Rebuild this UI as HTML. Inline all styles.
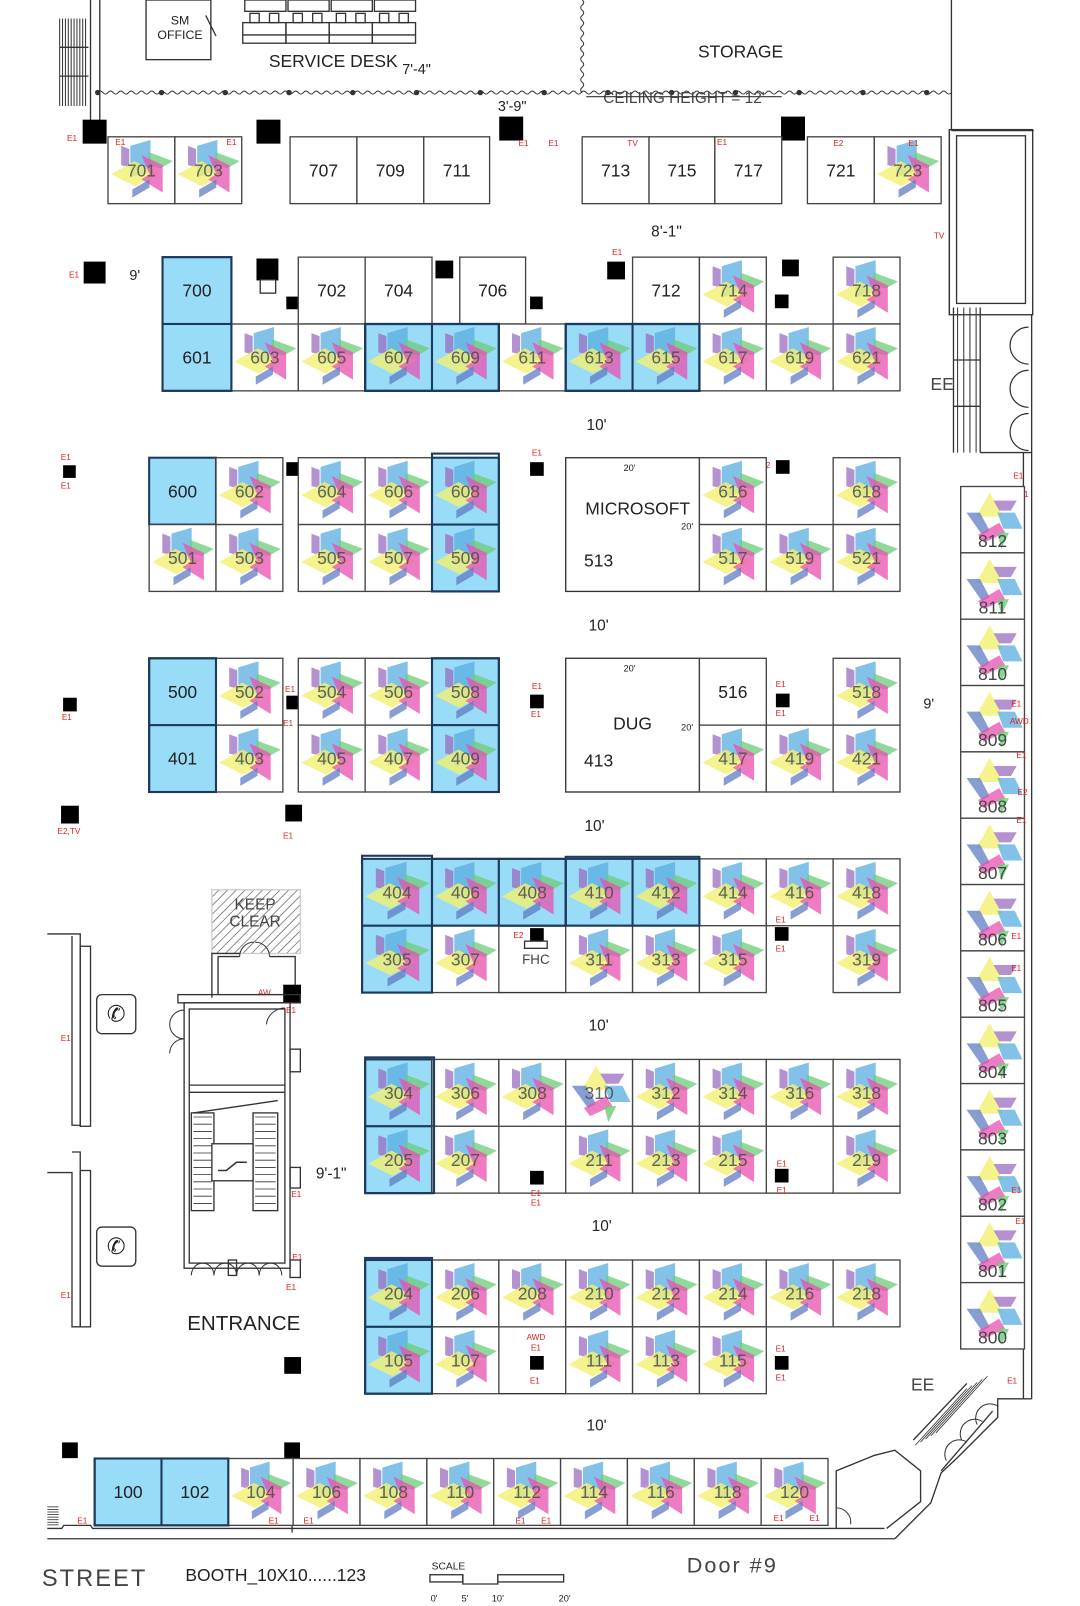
<!DOCTYPE html>
<html><head><meta charset="utf-8">
<style>
html,body{margin:0;padding:0;background:#fff;}
svg{display:block;}
text{font-family:"Liberation Sans",sans-serif;}
</style></head>
<body>
<svg id="s" xmlns="http://www.w3.org/2000/svg" width="1080" height="1606" viewBox="0 0 1050 1561.4">
<defs>
<g id="logo" stroke="none">
<polygon points="13,9 21,12 21,30 13,28" fill="#9b6cc0" opacity="0.75"/>
<polygon points="22,9 42,3 42,34 22,40" fill="#5aaee0" opacity="0.75"/>
<polygon points="40,15 64,24 52,31 40,28" fill="#6ccc78" opacity="0.75"/>
<polygon points="3,37 26,24 50,36 27,49" fill="#f2f070" opacity="0.8"/>
<polygon points="33,18 54,28 54,55 33,42 41,37" fill="#e850b0" opacity="0.75"/>
<polygon points="24,52 41,42 41,50 24,60" fill="#5f7cc4" opacity="0.75"/>
</g>
<g id="logo2" stroke="none">
<polygon points="30,6 44,30 16,30" fill="#f2f070" opacity="0.8"/>
<polygon points="34,14 58,14 52,24 40,24" fill="#9b6cc0" opacity="0.75"/>
<polygon points="6,26 20,26 30,44 22,48" fill="#5f7cc4" opacity="0.75"/>
<polygon points="38,26 56,26 64,42 44,42" fill="#5aaee0" opacity="0.75"/>
<polygon points="18,48 40,36 46,46 24,56" fill="#e850b0" opacity="0.75"/>
<polygon points="38,46 50,46 42,62" fill="#6ccc78" opacity="0.8"/>
</g>
<pattern id="hatch" width="6" height="6" patternUnits="userSpaceOnUse" patternTransform="rotate(45)">
<line x1="0" y1="0" x2="0" y2="6" stroke="#555" stroke-width="1.3"/>
</pattern>
</defs>
<g id="root" fill="none" stroke="#333" stroke-width="1.3"></g>
</svg>
<script>
var NS="http://www.w3.org/2000/svg",R=document.getElementById("root");
function el(t,a,txt){var e=document.createElementNS(NS,t);for(var k in a)e.setAttribute(k,a[k]);if(txt!=null)e.textContent=txt;R.appendChild(e);return e;}
function rect(x,y,w,h,o){o=o||{};el("rect",Object.assign({x:x,y:y,width:w,height:h},o));}
function line(x1,y1,x2,y2,o){el("line",Object.assign({x1:x1,y1:y1,x2:x2,y2:y2},o||{}));}
function pl(pts,o){el("polyline",Object.assign({points:pts},o||{}));}
function T(x,y,s,size,o){o=o||{};el("text",Object.assign({x:x,y:y,"font-size":size,fill:"#222",stroke:"none","text-anchor":"middle"},o),s);}
function red(x,y,s){T(x,y,s||"E1",8,{fill:"#e02020"});}
function pil(x,y,s){rect(x,y,s,s,{fill:"#000",stroke:"#000"});}
var BL="#99dcf7";
function B(x,y,w,h,lab,logo,blue,alt){
 rect(x,y,w,h,{fill:blue?BL:"#fff",stroke:blue?"#1c3a5c":"#444","stroke-width":blue?2:1.3});
 if(logo){el("use",{href:alt?"#logo2":"#logo",stroke:"none",transform:"translate("+x+","+y+") scale("+(w/66)+","+(h/66)+")"});}
 if(lab)T(x+w/2,y+h/2+6,lab,17,{fill:logo?"#4a4a4a":"#222","fill-opacity":logo?0.85:1});
}
line(88,0,88,120);line(97,0,97,120);
for(var i=0;i<10;i++){line(58+i*2.8,18,58+i*2.8,103,{"stroke-width":1});}
line(58,46,86,46);line(58,74,86,74);
rect(142,0,63,58);T(175,24,"SM",12);T(175,38,"OFFICE",12);line(200,15,210,35);
for(var j=0;j<4;j++){rect(238+j*42,0,40,11);rect(236+j*42,22,42,20);line(236+j*42,34,278+j*42,34);
 rect(243+j*42,13,9,9);rect(262+j*42,13,9,9);}
T(324,65,"SERVICE DESK",17);T(405,72,"7'-4\"",14);
var d="M95,90";for(var x=95;x<925;x+=10){d+=" q2.5,-3 5,0 t5,0";}
el("path",{d:d,"stroke-width":1});
var d2="M566,0";for(var y=0;y<90;y+=10){d2+=" q3,2.5 0,5 t0,5";}
el("path",{d:d2,"stroke-width":1});
for(var x=95;x<925;x+=62)el("circle",{cx:x,cy:90,r:2,fill:"#333"});
line(925,0,925,127);line(925,127,1005,127);
T(720,56,"STORAGE",17);
T(665,100,"CEILING HEIGHT = 12'",15,{fill:"#444"});line(570,94,760,94,{"stroke-width":1});
T(498,108,"3'-9\"",14);
pil(81,117,22);pil(250,117,22);pil(486,114,22);pil(760,114,22);
red(70,137);red(113,140);red(225,140);red(344,142);red(509,142);red(538,142);red(613,142);red(700,140);red(815,141);red(888,141);
var y7=133,h7=65;
B(105,y7,65,h7,"701",1);B(170,y7,65,h7,"703",1);
B(282,y7,65,h7,"707");B(347,y7,65,h7,"709");B(412,y7,64,h7,"711");
B(566,y7,65,h7,"713");B(631,y7,64,h7,"715");B(695,y7,65,h7,"717");
B(785,y7,65,h7,"721");B(850,y7,65,h7,"723",1);
red(117,141);red(225,141);red(615,142,"TV");red(702,141);red(815,142,"E2");red(888,142);
T(648,230,"8'-1\"",15);
red(913,232,"TV");
rect(923,126,81,180);rect(930,132,67,163);
line(923,126,923,306);
for(var k=0;k<4;k++)line(931+k*6,299,931+k*6,440,{"stroke-width":1});
line(927,299,927,440);line(953,299,953,440);line(927,350,953,350);line(927,395,953,395);
for(var k=0;k<3;k++){el("path",{d:"M1000,"+(318+k*42)+" a18,18 0 0,0 0,36","stroke-width":1.2});}
T(916,379,"EE",17,{fill:"#444"});
line(995,440,995,1360);line(1003,306,1003,1360);
line(953,440,1003,440);
red(990,465);red(995,483);
var ya=250,yb=315,h=65;
pil(82,255,20);red(72,270);T(131,272,"9'",14);
pil(250,252,20);rect(253,272,15,13,{fill:"#fff"});pil(279,289,11);
pil(424,254,16);pil(516,289,11);pil(591,255,16);pil(761,253,15);pil(754,287,12);red(600,248);
B(158,ya,67,h,"700",0,1);
B(290,ya,65,h,"702");B(355,ya,65,h,"704");B(447,ya,64,h,"706");
B(615,ya,65,h,"712");B(680,ya,65,h,"714",1);B(810,ya,65,h,"718",1);
var cols6=[[158,67,"601",0,1],[225,65,"603",1,0],[290,65,"605",1,0],[355,65,"607",1,1],[420,65,"609",1,1],[485,65,"611",1,0],[550,65,"613",1,1],[615,65,"615",1,1],[680,65,"617",1,0],[745,65,"619",1,0],[810,65,"621",1,0]];
cols6.forEach(function(c){B(c[0],yb,c[1],h,c[2],c[3],c[4]);});
rect(158,250,67,130,{stroke:"#1c3a5c","stroke-width":2});
rect(355,315,130,65,{stroke:"#1c3a5c","stroke-width":2.2});rect(550,315,130,65,{stroke:"#1c3a5c","stroke-width":2.2});
T(580,418,"10'",15);
ya=445;yb=510;
pil(62,453,11);red(64,447);red(64,475);pil(279,450,12);red(267,458,"E2");pil(516,450,12);red(522,443);pil(755,448,12);red(744,455,"E2");
B(145,ya,65,h,"600",0,1);B(210,ya,65,h,"602",1);B(290,ya,65,h,"604",1);B(355,ya,65,h,"606",1);B(420,ya,65,h,"608",1,1);
B(145,yb,65,h,"501",1);B(210,yb,65,h,"503",1);B(290,yb,65,h,"505",1);B(355,yb,65,h,"507",1);B(420,yb,65,h,"509",1,1);
rect(420,441,65,134,{stroke:"#1c3a5c","stroke-width":2});
rect(550,445,130,130,{fill:"#fff"});T(620,500,"MICROSOFT",17);T(582,551,"513",17);T(612,458,"20'",9);T(668,515,"20'",9);
B(680,ya,65,h,"616",1);B(810,ya,65,h,"618",1);
B(680,yb,65,h,"517",1);B(745,yb,65,h,"519",1);B(810,yb,65,h,"521",1);
T(582,613,"10'",15);
ya=640;yb=705;
pil(62,679,12);red(65,700);pil(279,677,12);red(282,673);red(280,706);pil(516,676,12);red(522,670);red(521,697);pil(755,675,12);red(759,668);red(759,696);
B(145,ya,65,h,"500",0,1);B(210,ya,65,h,"502",1);B(290,ya,65,h,"504",1);B(355,ya,65,h,"506",1);B(420,ya,65,h,"508",1,1);
B(145,yb,65,h,"401",0,1);B(210,yb,65,h,"403",1);B(290,yb,65,h,"405",1);B(355,yb,65,h,"407",1);B(420,yb,65,h,"409",1,1);
rect(145,640,65,130,{stroke:"#1c3a5c","stroke-width":2});rect(420,640,65,130,{stroke:"#1c3a5c","stroke-width":2});
rect(550,640,130,130,{fill:"#fff"});T(615,709,"DUG",17);T(582,745,"413",17);T(612,653,"20'",9);T(668,710,"20'",9);
B(680,ya,65,h,"516");B(810,ya,65,h,"518",1);
B(680,yb,65,h,"417",1);B(745,yb,65,h,"419",1);B(810,yb,65,h,"421",1);
T(903,689,"9'",14);
pil(60,784,16);red(67,811,"E2,TV");pil(278,783,15);red(280,815);
T(578,808,"10'",15);
ya=835;yb=900;
var c4=[[352,68,"404",1,1],[420,65,"406",1,1],[485,65,"408",1,1],[550,65,"410",1,1],[615,65,"412",1,1],[680,65,"414",1,0],[745,65,"416",1,0],[810,65,"418",1,0]];
c4.forEach(function(c){B(c[0],ya,c[1],h,c[2],c[3],c[4]);});
var c3=[[352,68,"305",1,1],[420,65,"307",1,0],[550,65,"311",1,0],[615,65,"313",1,0],[680,65,"315",1,0],[810,65,"319",1,0]];
c3.forEach(function(c){B(c[0],yb,c[1],h,c[2],c[3],c[4]);});
rect(352,832,68,133,{stroke:"#1c3a5c","stroke-width":2});rect(420,835,130,65,{stroke:"#1c3a5c","stroke-width":2});rect(550,833,130,67,{stroke:"#1c3a5c","stroke-width":2});
line(485,965,550,965);
pil(516,903,12);rect(510,915,22,7,{fill:"#fff"});T(521,937,"FHC",13,{fill:"#444"});red(504,912,"E2");
pil(754,902,12);red(759,897);red(759,925);
T(582,1002,"10'",15);
ya=1030;yb=1095;
var c5=[[355,65,"304",1,1],[420,65,"306",1,0],[485,65,"308",1,0],[550,65,"310",1,0,1],[615,65,"312",1,0],[680,65,"314",1,0],[745,65,"316",1,0],[810,65,"318",1,0]];
c5.forEach(function(c){B(c[0],ya,c[1],h,c[2],c[3],c[4],c[5]);});
var c6=[[355,65,"205",1,1],[420,65,"207",1,0],[550,65,"211",1,0],[615,65,"213",1,0],[680,65,"215",1,0],[810,65,"219",1,0]];
c6.forEach(function(c){B(c[0],yb,c[1],h,c[2],c[3],c[4]);});
rect(355,1028,67,132,{stroke:"#1c3a5c","stroke-width":2});line(485,1160,550,1160);line(745,1160,810,1160);
pil(516,1139,12);red(521,1163);red(521,1172);pil(754,1137,12);red(760,1134);red(760,1160);
T(322,1146,"9'-1\"",15);
T(585,1197,"10'",15);
ya=1225;yb=1290;
var c7=[[355,65,"204",1,1],[420,65,"206",1,0],[485,65,"208",1,0],[550,65,"210",1,0],[615,65,"212",1,0],[680,65,"214",1,0],[745,65,"216",1,0],[810,65,"218",1,0]];
c7.forEach(function(c){B(c[0],ya,c[1],h,c[2],c[3],c[4]);});
var c8=[[355,65,"105",1,1],[420,65,"107",1,0],[550,65,"111",1,0],[615,65,"113",1,0],[680,65,"115",1,0]];
c8.forEach(function(c){B(c[0],yb,c[1],h,c[2],c[3],c[4]);});
rect(355,1223,65,132,{stroke:"#1c3a5c","stroke-width":2});line(485,1355,550,1355);
pil(516,1319,12);red(521,1303,"AWD");red(521,1313);red(520,1345);pil(754,1319,12);red(759,1314);red(759,1342);
pil(277,1320,15);
T(580,1391,"10'",15);
var lab8=["812","811","810","809","808","807","806","805","804","803","802","801","800"];
for(var i=0;i<13;i++){B(934,473+i*64.5,62,64.5,null,1,0,1);T(965,473+i*64.5+59,lab8[i],17,{fill:"#444"});}
red(988,687);red(991,704,"AWD");red(993,737);red(994,773,"E2");red(993,800);red(988,913);red(988,944);red(988,1160);red(992,1190);red(984,1345);
rect(206,865,86,62,{fill:"url(#hatch)",stroke:"#ccc"});
T(248,884,"KEEP",15,{fill:"#444"});T(248,901,"CLEAR",15,{fill:"#444"});
pl("212,967 212,930 233,930",{});pl("262,930 287,930 287,967");pl("206,970 206,927 233,927");
el("path",{d:"M233,930 a14,14 0 0,1 14,-14 M262,930 a14,14 0 0,0 -14,-14","stroke-width":1});
pil(276,958,16);red(257,968,"AW");red(283,985);
rect(173,967,119,8);
rect(179,975,103,258);rect(184,981,93,247);
line(184,1055,277,1055);line(184,1062,277,1062);
el("path",{d:"M179,982 a14,14 0 0,0 -14,14 a14,14 0 0,0 14,14 M179,1010 a14,14 0 0,0 -14,14",stroke:"#333","stroke-width":1});
el("path",{d:"M277,980 a18,18 0 0,0 -18,16","stroke-width":1});
rect(282,1020,10,22);rect(282,1135,10,20);rect(282,1225,10,17);
for(var k=0;k<13;k++){line(188,1086+k*7,206,1086+k*7,{"stroke-width":0.8});line(248,1086+k*7,268,1086+k*7,{"stroke-width":0.8});}
rect(186,1082,22,95);rect(246,1082,24,95);line(188,1082,270,1070);
rect(206,1112,40,36,{fill:"#fff"});el("path",{d:"M212,1138 l8,0 l10,-8 l10,0","stroke-width":1.5});
for(var k=0;k<4;k++)el("path",{d:"M"+(186+k*22)+",1240 a11,12 0 0,1 22,0","stroke-width":1});
rect(222,1225,8,15);
red(288,1164);red(289,1225);red(283,1254);
T(237,1293,"ENTRANCE",20);
pl("46,908 78,908 78,1094 70,1094 70,910");rect(78,920,10,175);
red(64,1012);
rect(94,967,38,38,{rx:5});T(113,993,"✆",22);
pl("46,1140 70,1140 70,1290 78,1290 78,1120 70,1120");rect(78,1138,10,152);
red(64,1262);
rect(94,1193,38,38,{rx:5});T(113,1219,"✆",22);
pil(61,1403,14);pil(277,1403,14);line(284,1417,284,1490);
var xs=[92,157,222,285,350,415,480,545,610,675,740,805];
var labs=["100","102","104","106","108","110","112","114","116","118","120"];
for(var i=0;i<11;i++){B(xs[i],1418,xs[i+1]-xs[i],65,labs[i],i>1,i<2);}
rect(92,1418,130,65,{stroke:"#1c3a5c","stroke-width":2});
red(80,1481);red(266,1481);red(300,1481);red(506,1481);red(531,1481);red(757,1479);red(792,1479);
for(var k=0;k<8;k++)line(46,1465+k*2.5,57,1465+k*2.5,{"stroke-width":0.8});
pl("46,1486 60,1486 62,1483 88,1483 90,1486 860,1486");
line(46,1496,870,1496);
pl("870,1496 905,1461 915,1432 930,1418 970,1378 970,1360 1003,1360");
pl("813,1486 813,1430 850,1415 870,1410 895,1430 895,1460 862,1486");
for(var k=0;k<5;k++)line(890+k*5,1405-k*3,940+k*5,1350-k*3,{"stroke-width":0.8});
line(888,1400,940,1345);line(915,1430,965,1372);
el("path",{d:"M935,1400 a14,14 0 0,1 20,-18 M950,1385 a14,14 0 0,1 20,-18 M920,1420 a14,14 0 0,1 20,-18","stroke-width":1});
T(897,1352,"EE",17,{fill:"#444","text-anchor":"middle"});
el("path",{d:"M813,1466 a14,14 0 0,1 14,16","stroke-width":1});
T(92,1542,"STREET",23,{fill:"#444","font-weight":"300","letter-spacing":"2"});
T(268,1537,"BOOTH_10X10......123",17);
T(712,1529,"Door  #9",21,{fill:"#444","letter-spacing":"2"});
T(436,1526,"SCALE",10);
rect(418,1531,32,7);pl("450,1531 450,1540 484,1540 484,1531");rect(484,1531,64,7);
T(422,1557,"0'",9);T(452,1557,"5'",9);T(484,1557,"10'",9);T(549,1557,"20'",9);
</script>
</body></html>
